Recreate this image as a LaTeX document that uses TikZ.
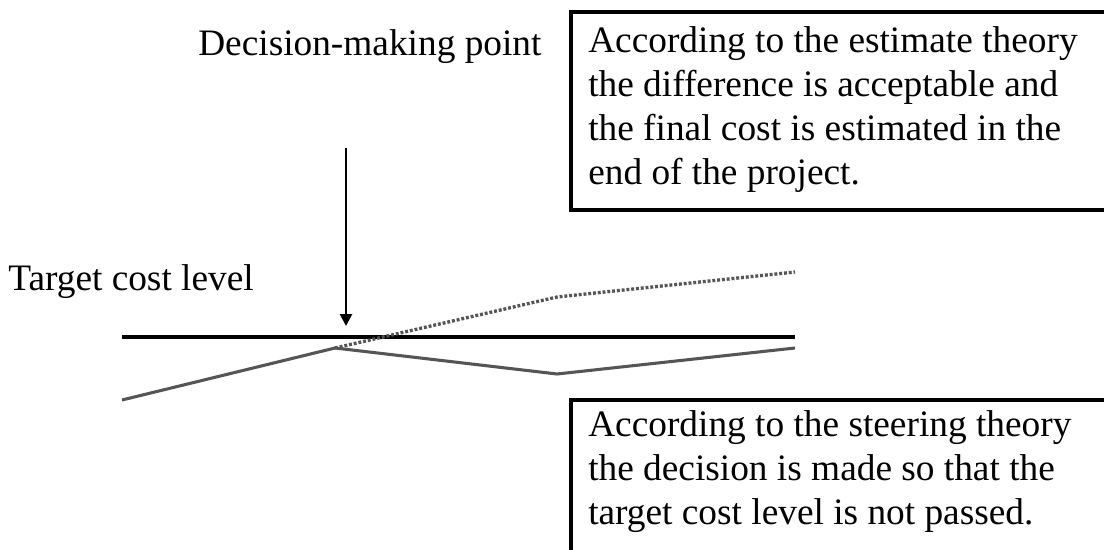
\documentclass[tikz,border=0pt]{standalone}
\usepackage{fontspec}
\setmainfont{Liberation Serif}
\usetikzlibrary{arrows.meta}
\definecolor{curvegray}{RGB}{85,85,85}
\tikzset{
  boxframe/.style={draw=black, line width=2.4pt},
  boxtext/.style={anchor=north west, align=left, inner sep=0pt, font=\fontsize{28}{33}\selectfont},
  lbl/.style={anchor=base west, inner sep=0pt, font=\fontsize{28}{33}\selectfont},
  target/.style={draw=black, line width=2.4pt},
  actual/.style={draw=curvegray, line width=2.3pt},
  estimate/.style={draw=curvegray, line width=2.5pt, dash pattern=on 2.2pt off 1.4pt},
  decarrow/.style={draw=black, line width=2pt, -{Triangle[length=9pt,width=9pt]}}
}
\begin{document}
\begin{tikzpicture}[x=0.75pt,y=-0.75pt]
\useasboundingbox (0,0) rectangle (1104,550);
% boxes
\draw[boxframe] (1120,12) -- (571,12) -- (571,210) -- (1120,210);
\draw[boxframe] (1120,400) -- (571,400) -- (571,570);
\node[boxtext] (est) at (588,26) {According to the estimate theory\\the difference is acceptable and\\the final cost is estimated in the\\end of the project.};
\node[boxtext] (steer) at (588,410) {According to the steering theory\\the decision is made so that the\\target cost level is not passed.};
% labels
\node[lbl] (dec) at (198,55) {Decision-making point};
\node[lbl] (tcl) at (8,290) {Target cost level};
% points
\coordinate (t0) at (122,337);
\coordinate (t1) at (795,337);
\coordinate (a0) at (122,400);
\coordinate (a1) at (335,348);
\coordinate (a2) at (557,374);
\coordinate (a3) at (795,348);
\coordinate (e2) at (557,297);
\coordinate (e3) at (795,272);
\coordinate (arrtop) at (346,148);
\coordinate (arrtip) at (346,326);
% lines
\draw[target] (t0) -- (t1);
\draw[actual, line join=miter] (a0) -- (a1) -- (a2) -- (a3);
\draw[estimate] (a1) -- (e2) -- (e3);
\draw[decarrow] (arrtop) -- (arrtip);
\end{tikzpicture}
\end{document}
